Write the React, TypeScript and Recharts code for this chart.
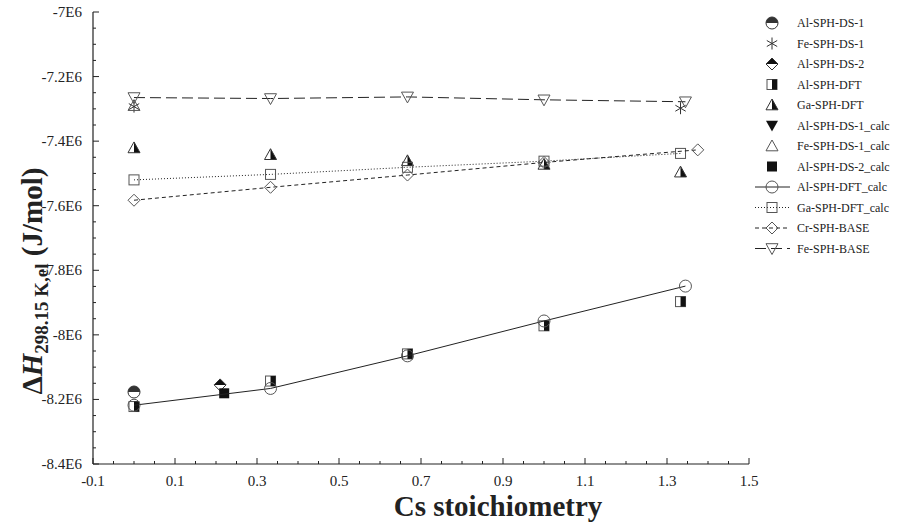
import React from 'react';
import { ScatterChart, Scatter, XAxis, YAxis, Legend } from 'recharts';

const W = 897;
const H = 524;
const FONT = '"Liberation Serif", "Times New Roman", serif';
const INK = '#222';
const GRAY = '#555';

// ---- tick labels ----
const xMajorTicks = [-0.1, 0.1, 0.3, 0.5, 0.7, 0.9, 1.1, 1.3, 1.5];
const xTickLabels = ['-0.1', '0.1', '0.3', '0.5', '0.7', '0.9', '1.1', '1.3', '1.5'];
const yMajorTicks = [-7e6, -7.2e6, -7.4e6, -7.6e6, -7.8e6, -8e6, -8.2e6, -8.4e6];
const yTickLabels = ['-7E6', '-7.2E6', '-7.4E6', '-7.6E6', '-7.8E6', '-8E6', '-8.2E6', '-8.4E6'];

// minor ticks: 3 between each pair of majors
const xAllTicks: number[] = [];
for (let i = 0; i < xMajorTicks.length - 1; i++) {
  for (let k = 0; k < 4; k++) xAllTicks.push(Math.round((xMajorTicks[i] + ((xMajorTicks[i + 1] - xMajorTicks[i]) * k) / 4) * 1000) / 1000);
}
xAllTicks.push(xMajorTicks[xMajorTicks.length - 1]);
const yAllTicks: number[] = [];
for (let i = 0; i < yMajorTicks.length - 1; i++) {
  for (let k = 0; k < 4; k++) yAllTicks.push(Math.round(yMajorTicks[i] + ((yMajorTicks[i + 1] - yMajorTicks[i]) * k) / 4));
}
yAllTicks.push(yMajorTicks[yMajorTicks.length - 1]);

// ---- series data ----
const alSphDs1 = [{ x: 0, y: -8.177e6 }];
const feSphDs1 = [
  { x: 0, y: -7.293e6 },
  { x: 1.333, y: -7.298e6 },
];
const alSphDs2 = [{ x: 0.21, y: -8.155e6 }];
const alSphDft = [
  { x: 0, y: -8.222e6 },
  { x: 0.333, y: -8.143e6 },
  { x: 0.667, y: -8.059e6 },
  { x: 1.0, y: -7.972e6 },
  { x: 1.333, y: -7.897e6 },
];
const gaSphDft = [
  { x: 0, y: -7.421e6 },
  { x: 0.333, y: -7.442e6 },
  { x: 0.667, y: -7.461e6 },
  { x: 1.0, y: -7.472e6 },
  { x: 1.333, y: -7.496e6 },
];
const alSphDs1Calc: { x: number; y: number }[] = [];
const feSphDs1Calc = [{ x: 0, y: -7.29e6 }];
const alSphDs2Calc = [{ x: 0.22, y: -8.181e6 }];
const alSphDftCalc = [
  { x: 0, y: -8.218e6 },
  { x: 0.333, y: -8.166e6 },
  { x: 0.667, y: -8.065e6 },
  { x: 1.0, y: -7.957e6 },
  { x: 1.345, y: -7.849e6 },
];
const gaSphDftCalc = [
  { x: 0, y: -7.52e6 },
  { x: 0.333, y: -7.503e6 },
  { x: 0.667, y: -7.481e6 },
  { x: 1.0, y: -7.462e6 },
  { x: 1.333, y: -7.438e6 },
];
const crSphBase = [
  { x: 0, y: -7.583e6 },
  { x: 0.333, y: -7.543e6 },
  { x: 0.667, y: -7.505e6 },
  { x: 1.0, y: -7.466e6 },
  { x: 1.375, y: -7.427e6 },
];
const feSphBase = [
  { x: 0, y: -7.265e6 },
  { x: 0.333, y: -7.268e6 },
  { x: 0.667, y: -7.263e6 },
  { x: 1.0, y: -7.272e6 },
  { x: 1.345, y: -7.278e6 },
];

// ---- marker shapes ----
type ShapeKind =
  | 'halfCircleTop'
  | 'asterisk'
  | 'halfDiamondTop'
  | 'halfSquareRight'
  | 'halfTriangleRight'
  | 'triangleDownFilled'
  | 'triangleUpOpen'
  | 'squareFilled'
  | 'circleOpen'
  | 'squareOpen'
  | 'diamondOpen'
  | 'triangleDownOpen';

function Marker({ kind, cx, cy }: { kind: ShapeKind; cx: number; cy: number }) {
  const r = 6;
  const s = 5;
  switch (kind) {
    case 'halfCircleTop':
      return (
        <g>
          <path d={`M${cx - r},${cy} A${r},${r} 0 0 1 ${cx + r},${cy} Z`} fill="#333" />
          <circle cx={cx} cy={cy} r={r} fill="none" stroke="#333" strokeWidth={1} />
        </g>
      );
    case 'asterisk': {
      const a = 6;
      const dx = a * Math.cos(Math.PI / 6);
      const dy = a * Math.sin(Math.PI / 6);
      return (
        <g stroke="#333" strokeWidth={1}>
          <line x1={cx} y1={cy - a} x2={cx} y2={cy + a} />
          <line x1={cx - dx} y1={cy - dy} x2={cx + dx} y2={cy + dy} />
          <line x1={cx - dx} y1={cy + dy} x2={cx + dx} y2={cy - dy} />
        </g>
      );
    }
    case 'halfDiamondTop':
      return (
        <g>
          <path d={`M${cx - r},${cy} L${cx},${cy - r} L${cx + r},${cy} Z`} fill="#111" />
          <path d={`M${cx - r},${cy} L${cx},${cy - r} L${cx + r},${cy} L${cx},${cy + r} Z`} fill="none" stroke="#333" strokeWidth={1} />
        </g>
      );
    case 'halfSquareRight':
      return (
        <g>
          <rect x={cx - s} y={cy - s} width={2 * s} height={2 * s} fill="#fff" stroke={GRAY} strokeWidth={1} />
          <rect x={cx} y={cy - s} width={s} height={2 * s} fill="#111" />
        </g>
      );
    case 'halfTriangleRight':
      return (
        <g>
          <path d={`M${cx},${cy - r} L${cx + r},${cy + r * 0.8} L${cx},${cy + r * 0.8} Z`} fill="#111" />
          <path d={`M${cx},${cy - r} L${cx + r},${cy + r * 0.8} L${cx - r},${cy + r * 0.8} Z`} fill="none" stroke="#333" strokeWidth={1} />
        </g>
      );
    case 'triangleDownFilled':
      return <path d={`M${cx - r},${cy - r * 0.8} L${cx + r},${cy - r * 0.8} L${cx},${cy + r} Z`} fill="#111" />;
    case 'triangleUpOpen':
      return <path d={`M${cx},${cy - r} L${cx + r},${cy + r * 0.8} L${cx - r},${cy + r * 0.8} Z`} fill="none" stroke={GRAY} strokeWidth={1} />;
    case 'squareFilled':
      return <rect x={cx - s} y={cy - s} width={2 * s} height={2 * s} fill="#111" />;
    case 'circleOpen':
      return <circle cx={cx} cy={cy} r={r} fill="none" stroke={GRAY} strokeWidth={1} />;
    case 'squareOpen':
      return <rect x={cx - s} y={cy - s} width={2 * s} height={2 * s} fill="none" stroke={GRAY} strokeWidth={1} />;
    case 'diamondOpen':
      return (
        <path d={`M${cx - r},${cy} L${cx},${cy - r} L${cx + r},${cy} L${cx},${cy + r} Z`} fill="none" stroke={GRAY} strokeWidth={1} />
      );
    case 'triangleDownOpen':
      return <path d={`M${cx - r},${cy - r * 0.8} L${cx + r},${cy - r * 0.8} L${cx},${cy + r} Z`} fill="none" stroke={GRAY} strokeWidth={1} />;
    default:
      return null;
  }
}

type SeriesDef = {
  name: string;
  data: { x: number; y: number }[];
  kind: ShapeKind;
  dash?: string;
};

const series: SeriesDef[] = [
  { name: 'Al-SPH-DS-1', data: alSphDs1, kind: 'halfCircleTop' },
  { name: 'Fe-SPH-DS-1', data: feSphDs1, kind: 'asterisk' },
  { name: 'Al-SPH-DS-2', data: alSphDs2, kind: 'halfDiamondTop' },
  { name: 'Al-SPH-DFT', data: alSphDft, kind: 'halfSquareRight' },
  { name: 'Ga-SPH-DFT', data: gaSphDft, kind: 'halfTriangleRight' },
  { name: 'Al-SPH-DS-1_calc', data: alSphDs1Calc, kind: 'triangleDownFilled' },
  { name: 'Fe-SPH-DS-1_calc', data: feSphDs1Calc, kind: 'triangleUpOpen' },
  { name: 'Al-SPH-DS-2_calc', data: alSphDs2Calc, kind: 'squareFilled' },
  { name: 'Al-SPH-DFT_calc', data: alSphDftCalc, kind: 'circleOpen', dash: '0' },
  { name: 'Ga-SPH-DFT_calc', data: gaSphDftCalc, kind: 'squareOpen', dash: '1 2' },
  { name: 'Cr-SPH-BASE', data: crSphBase, kind: 'diamondOpen', dash: '4 3' },
  { name: 'Fe-SPH-BASE', data: feSphBase, kind: 'triangleDownOpen', dash: '11 5' },
];

// ---- axis ticks ----
const isMajor = (list: number[], v: number) => list.findIndex((t) => Math.abs(t - v) < 1e-6 * Math.max(1, Math.abs(t)));

const BottomTick = (props: any) => {
  const { x, y, payload } = props;
  const mi = isMajor(xMajorTicks, payload.value);
  return (
    <g>
      <line x1={x} x2={x} y1={y} y2={y - (mi >= 0 ? 6 : 3)} stroke={INK} strokeWidth={1} />
      {mi >= 0 && (
        <text x={x} y={y + 22} textAnchor="middle" fontFamily={FONT} fontSize={15} fill={INK}>
          {xTickLabels[mi]}
        </text>
      )}
    </g>
  );
};
const TopTick = (props: any) => {
  const { x, y, payload } = props;
  const mi = isMajor(xMajorTicks, payload.value);
  return <line x1={x} x2={x} y1={y} y2={y + (mi >= 0 ? 6 : 3)} stroke={INK} strokeWidth={1} />;
};
const LeftTick = (props: any) => {
  const { x, y, payload } = props;
  const mi = isMajor(yMajorTicks, payload.value);
  return (
    <g>
      <line x1={x} x2={x + (mi >= 0 ? 6 : 3)} y1={y} y2={y} stroke={INK} strokeWidth={1} />
      {mi >= 0 && (
        <text x={x - 11} y={y + 5} textAnchor="end" fontFamily={FONT} fontSize={15} fill={INK}>
          {yTickLabels[mi]}
        </text>
      )}
    </g>
  );
};
const RightTick = (props: any) => {
  const { x, y, payload } = props;
  const mi = isMajor(yMajorTicks, payload.value);
  return <line x1={x} x2={x - (mi >= 0 ? 6 : 3)} y1={y} y2={y} stroke={INK} strokeWidth={1} />;
};

const XTitle = () => (
  <text x={498} y={516} textAnchor="middle" fontFamily={FONT} fontWeight="bold" fontSize={29} fill={INK}>
    Cs stoichiometry
  </text>
);
const YTitle = () => (
  <text
    transform="rotate(-90 42 281)"
    x={42}
    y={281}
    textAnchor="middle"
    fontFamily={FONT}
    fontWeight="bold"
    fontSize={29}
    fill={INK}
  >
    <tspan>Δ</tspan>
    <tspan fontStyle="italic">H</tspan>
    <tspan fontSize={19} dy={6}>
      298.15 K,el
    </tspan>
    <tspan dy={-6}> (J/mol)</tspan>
  </text>
);

const LegendContent = () => {
  const rowH = 20.5;
  return (
    <svg width={157} height={270} style={{ display: 'block' }}>
      {series.map((s, i) => {
        const cy = 23 + i * rowH;
        return (
          <g key={s.name}>
            {s.dash && (
              <line
                x1={15}
                x2={50}
                y1={cy}
                y2={cy}
                stroke={INK}
                strokeWidth={1}
                strokeDasharray={s.dash === '0' ? undefined : s.dash}
              />
            )}
            <Marker kind={s.kind} cx={32} cy={cy} />
            <text x={57} y={cy + 4} fontFamily={FONT} fontSize={12} fill={INK}>
              {s.name}
            </text>
          </g>
        );
      })}
    </svg>
  );
};

export default function App() {
  return (
    <div style={{ position: 'absolute', left: 0, top: 0, width: W, height: H, background: '#fff' }}>
      <ScatterChart width={W} height={H} margin={{ top: 12, right: 148, bottom: 0, left: 0 }}>
        <XAxis
          xAxisId="b"
          orientation="bottom"
          type="number"
          dataKey="x"
          domain={[-0.1, 1.5]}
          ticks={xAllTicks}
          interval={0}
          tick={<BottomTick />}
          tickLine={false}
          tickSize={0}
          tickMargin={0}
          axisLine={{ stroke: INK, strokeWidth: 1.2 }}
          height={60}
          allowDataOverflow
          label={<XTitle />}
        />
        <XAxis
          xAxisId="t"
          orientation="top"
          type="number"
          dataKey="x"
          domain={[-0.1, 1.5]}
          ticks={xAllTicks}
          interval={0}
          tick={<TopTick />}
          tickLine={false}
          tickSize={0}
          tickMargin={0}
          axisLine={{ stroke: INK, strokeWidth: 1.2 }}
          height={0}
          allowDataOverflow
        />
        <YAxis
          yAxisId="l"
          orientation="left"
          type="number"
          dataKey="y"
          domain={[-8.4e6, -7e6]}
          ticks={yAllTicks}
          interval={0}
          tick={<LeftTick />}
          tickLine={false}
          tickSize={0}
          tickMargin={0}
          axisLine={{ stroke: INK, strokeWidth: 1.2 }}
          width={93}
          allowDataOverflow
          label={<YTitle />}
        />
        <YAxis
          yAxisId="r"
          orientation="right"
          type="number"
          dataKey="y"
          domain={[-8.4e6, -7e6]}
          ticks={yAllTicks}
          interval={0}
          tick={<RightTick />}
          tickLine={false}
          tickSize={0}
          tickMargin={0}
          axisLine={{ stroke: INK, strokeWidth: 1.2 }}
          width={0}
          allowDataOverflow
        />
        {series.map((s) => (
          <Scatter
            key={s.name}
            name={s.name}
            data={s.data}
            xAxisId="b"
            yAxisId="l"
            isAnimationActive={false}
            line={
              s.dash
                ? { stroke: INK, strokeWidth: 1, strokeDasharray: s.dash === '0' ? undefined : s.dash }
                : false
            }
            lineType="joint"
            shape={(p: any) => <Marker kind={s.kind} cx={p.cx} cy={p.cy} />}
          />
        ))}
        <Legend
          layout="vertical"
          align="center"
          verticalAlign="middle"
          content={() => <LegendContent />}
          wrapperStyle={{ left: 740, top: 0, width: 157, height: 270 }}
        />
      </ScatterChart>
    </div>
  );
}
